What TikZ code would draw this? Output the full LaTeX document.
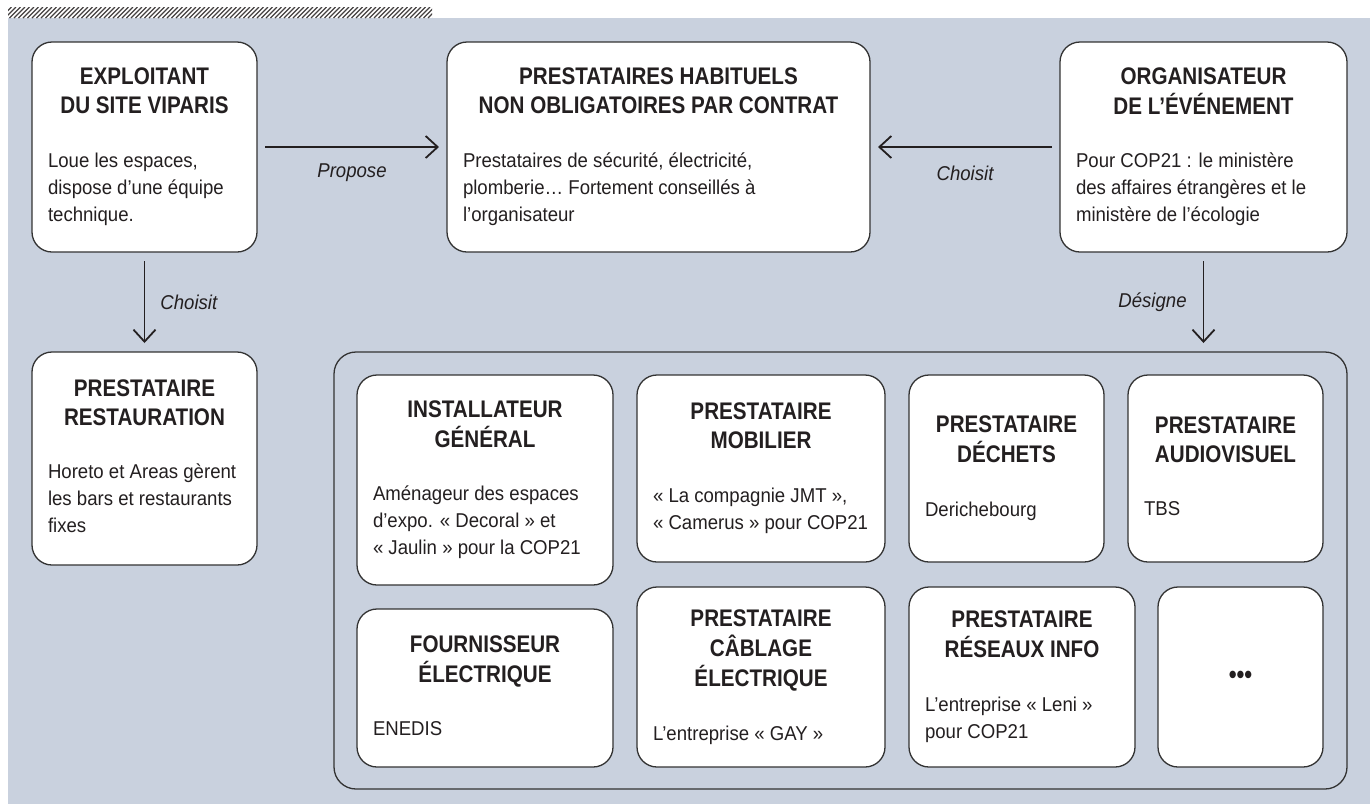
\documentclass[tikz,border=0pt]{standalone}
\usepackage{fontspec}
\setmainfont{Liberation Sans}
\newfontfamily\headfam{Liberation Sans}[FakeStretch=0.86]
\newfontfamily\textfam{Liberation Sans}[FakeStretch=0.93]
\usetikzlibrary{arrows.meta}

\definecolor{panel}{HTML}{C9D1DE}
\definecolor{ink}{HTML}{231F20}
\definecolor{rim}{HTML}{333333}

\newcommand{\cardhead}{\headfam\bfseries\fontsize{24}{29}\selectfont}
\newcommand{\cardbody}{\textfam\mdseries\upshape\fontsize{20}{27}\selectfont}
\newcommand{\cardlabel}{\textfam\mdseries\fontsize{20}{22}\selectfont\itshape}

\tikzset{
  cardbox/.style={draw=rim, line width=1.3pt, fill=white, rounded corners=20pt,
    inner sep=0pt, outer sep=0pt, text=ink},
  groupbox/.style={draw=rim, line width=1.3pt, fill=panel, rounded corners=22pt,
    inner sep=0pt, outer sep=0pt},
  flow/.style={draw=ink, line width=1.8pt,
    -{Straight Barb[length=12pt,width=22pt]}},
  flowlabel/.style={inner sep=0pt, text=ink, font=\cardlabel},
  hatchline/.style={draw=ink!85, line width=1.3pt}
}

% card: name, left, top, width, height, heading lines, body lines
\newcommand{\card}[7]{%
  \node[cardbox, minimum width=#4pt, minimum height=#5pt] (#1)
    at ({#2+#4/2},{#3+#5/2})
    {\begin{minipage}{\dimexpr#4pt-32pt\relax}
      \centering\cardhead\begin{tabular}{@{}c@{}}#6\end{tabular}\par
      \vspace{25pt}
      \raggedright\cardbody\begin{tabular}{@{}l@{}}#7\end{tabular}
     \end{minipage}};}

\begin{document}
\begin{tikzpicture}[x=1pt, y=-1pt]
  \useasboundingbox (0,0) rectangle (1370,804);

  % hatched strip and panel
  \fill[panel] (8,18) rectangle (1370,804);
  \begin{scope}
    \clip (8,7) rectangle (432,18);
    \foreach \i in {0,...,98}
      \draw[hatchline] ({\i*4.5-4},18) -- ++(11,-11);
  \end{scope}

  % top row
  \card{exploit}{32}{42}{225}{210}
    {EXPLOITANT\\DU SITE VIPARIS}
    {Loue les espaces,\\dispose d’une équipe\\technique.}
  \card{habit}{447}{42}{423}{210}
    {PRESTATAIRES HABITUELS\\NON OBLIGATOIRES PAR CONTRAT}
    {Prestataires de sécurité, électricité,\\plomberie… Fortement conseillés à\\l’organisateur}
  \card{orga}{1060}{42}{287}{210}
    {ORGANISATEUR\\DE L’ÉVÉNEMENT}
    {Pour COP21 : le ministère\\des affaires étrangères et le\\ministère de l’écologie}

  % left column
  \card{resto}{32}{352}{225}{213}
    {PRESTATAIRE\\RESTAURATION}
    {Horeto et Areas gèrent\\les bars et restaurants\\fixes}

  % group of designated providers
  \node[groupbox, minimum width=1013pt, minimum height=437pt] (group)
    at ({334+1013/2},{352+437/2}) {};

  \card{inst}{357}{375}{256}{210}
    {INSTALLATEUR\\GÉNÉRAL}
    {Aménageur des espaces\\d’expo. « Decoral » et\\« Jaulin » pour la COP21}
  \card{mob}{637}{375}{248}{187}
    {PRESTATAIRE\\MOBILIER}
    {« La compagnie JMT »,\\« Camerus » pour COP21}
  \card{dech}{909}{375}{195}{187}
    {PRESTATAIRE\\DÉCHETS}
    {Derichebourg}
  \card{audio}{1128}{375}{195}{187}
    {PRESTATAIRE\\AUDIOVISUEL}
    {TBS}
  \card{fourn}{357}{609}{256}{158}
    {FOURNISSEUR\\ÉLECTRIQUE}
    {ENEDIS}
  \card{cabl}{637}{587}{248}{180}
    {PRESTATAIRE\\CÂBLAGE\\ÉLECTRIQUE}
    {L’entreprise « GAY »}
  \card{reseau}{909}{587}{226}{180}
    {PRESTATAIRE\\RÉSEAUX INFO}
    {L’entreprise « Leni »\\pour COP21}
  \node[cardbox, minimum width=165pt, minimum height=180pt] (more)
    at ({1158+165/2},{587+180/2}) {\cardhead\fontsize{26}{26}\selectfont •••};

  % connectors
  \draw[flow, shorten <=8pt, shorten >=8pt] (exploit) --
    node[flowlabel, midway, yshift=-26pt] {Propose} (habit);
  \draw[flow, shorten <=8pt, shorten >=8pt] (orga) --
    node[flowlabel, midway, yshift=-26pt] {Choisit} (habit);
  \draw[flow, shorten <=9pt, shorten >=9pt] (exploit) --
    node[flowlabel, midway, right=15pt] {Choisit} (resto);
  \draw[flow, shorten <=9pt, shorten >=9pt] (orga.south) --
    node[flowlabel, midway, left=16pt] {Désigne} (orga.south |- group.north);
\end{tikzpicture}
\end{document}
